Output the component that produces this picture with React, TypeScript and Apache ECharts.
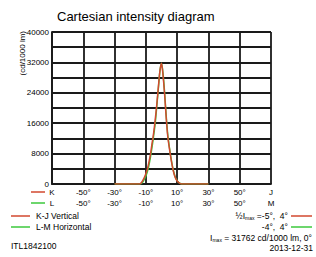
import React, { useEffect, useRef } from "react";
import * as echarts from "echarts";

const angles = [-30, -20, -14, -13, -12, -11, -10, -9, -8, -7, -6, -5, -4, -3, -2, -1, 0, 1, 2, 3, 4, 5, 6, 7, 8, 9, 10, 11, 12, 13, 20, 30];
const kjVertical = [0, 0, 0, 300, 900, 1700, 2700, 4000, 5800, 8000, 10800, 13500, 17000, 21000, 25500, 29800, 31762, 28500, 23500, 17500, 12500, 9500, 6800, 4500, 2700, 1500, 800, 400, 100, 0, 0, 0];
const lmHorizontal = [0, 0, 0, 100, 500, 1200, 2100, 3300, 5000, 7200, 9800, 12800, 16000, 20500, 25200, 29700, 31762, 29000, 24000, 18000, 13000, 9800, 7000, 4700, 2900, 1600, 900, 400, 150, 0, 0, 0];
const xTickAngles = [-70, -50, -30, -10, 10, 30, 50, 70];
const yTicks = [0, 8000, 16000, 24000, 32000, 40000];
const row1Ends = ["K", "J"];
const row2Ends = ["L", "M"];

const RED = "#d2492f";
const GREEN = "#3cc83c";
const FONT = "Liberation Sans";
const X_SHIFT = 70;

export default function App() {
  const ref = useRef<HTMLDivElement>(null);
  useEffect(() => {
    if (!ref.current) return;
    const chart = echarts.init(ref.current, null, { renderer: "svg" });
    const lbl = (ends: string[]) => (v: number) => {
      const a = Math.round(v - X_SHIFT);
      if (a === xTickAngles[0]) return ends[0];
      if (a === xTickAngles[xTickAngles.length - 1]) return ends[1];
      return xTickAngles.includes(a) ? a + "°" : "";
    };
    const axisBase = {
      type: "value",
      min: 0,
      max: 140,
      interval: 20,
      position: "bottom",
      axisTick: { show: false },
      splitLine: { show: false },
    };
    const gridLine = { color: "#1a1a1a", width: 1.8 };
    chart.setOption({
      animation: false,
      textStyle: { fontFamily: FONT },
      title: {
        text: "Cartesian intensity diagram",
        left: 52,
        top: 5,
        textStyle: { fontFamily: FONT, fontSize: 13, fontWeight: "normal", color: "#000" },
      },
      grid: { left: 52, top: 32, right: 45, bottom: 73 },
      xAxis: [
        {
          ...axisBase,
          axisLine: { show: true, lineStyle: gridLine },
          splitLine: { show: true, lineStyle: gridLine },
          axisLabel: { formatter: lbl(row1Ends), fontSize: 8, color: "#000", margin: 4, fontFamily: FONT, showMinLabel: true, showMaxLabel: true },
        },
        {
          ...axisBase,
          offset: 11,
          axisLine: { show: false },
          axisLabel: { formatter: lbl(row2Ends), fontSize: 8, color: "#000", margin: 4, fontFamily: FONT, showMinLabel: true, showMaxLabel: true },
        },
      ],
      yAxis: {
        type: "value",
        min: 0,
        max: 40000,
        interval: 4000,
        axisLine: { show: true, lineStyle: gridLine },
        axisTick: { show: false },
        splitLine: { show: true, lineStyle: gridLine },
        axisLabel: {
          fontSize: 8,
          color: "#000",
          margin: 3,
          fontFamily: FONT,
          formatter: (v: number) => (yTicks.includes(v) ? String(v) : ""),
        },
      },
      series: [
        {
          name: "L-M Horizontal",
          type: "line",
          xAxisIndex: 0,
          data: angles.map((a, i) => [a + X_SHIFT, lmHorizontal[i]]),
          smooth: 0.3,
          symbol: "none",
          lineStyle: { color: GREEN, width: 1.5 },
        },
        {
          name: "K-J Vertical",
          type: "line",
          xAxisIndex: 0,
          data: angles.map((a, i) => [a + X_SHIFT, kjVertical[i]]),
          smooth: 0.3,
          symbol: "none",
          lineStyle: { color: RED, width: 1.5 },
        },
      ],
      graphic: [
        {
          type: "text",
          x: 22,
          y: 31,
          rotation: Math.PI / 2,
          style: { text: "(cd/1000 lm)", fontSize: 8, fontFamily: FONT, fill: "#000", align: "right", verticalAlign: "middle" },
        },
        { type: "line", shape: { x1: 31, y1: 192, x2: 45, y2: 192 }, style: { stroke: RED, lineWidth: 1.5 } },
        { type: "line", shape: { x1: 31, y1: 203, x2: 45, y2: 203 }, style: { stroke: GREEN, lineWidth: 1.5 } },
        { type: "line", shape: { x1: 11, y1: 216, x2: 30, y2: 216 }, style: { stroke: RED, lineWidth: 1.5 } },
        { type: "line", shape: { x1: 11, y1: 227, x2: 30, y2: 227 }, style: { stroke: GREEN, lineWidth: 1.5 } },
        { type: "text", x: 36, y: 216, style: { text: "K-J Vertical", fontSize: 8.5, fontFamily: FONT, fill: "#000", verticalAlign: "middle" } },
        { type: "text", x: 36, y: 227, style: { text: "L-M Horizontal", fontSize: 8.5, fontFamily: FONT, fill: "#000", verticalAlign: "middle" } },
        { type: "line", shape: { x1: 291, y1: 216, x2: 312, y2: 216 }, style: { stroke: RED, lineWidth: 1.5 } },
        { type: "line", shape: { x1: 291, y1: 227, x2: 312, y2: 227 }, style: { stroke: GREEN, lineWidth: 1.5 } },
        {
          type: "text",
          x: 288,
          y: 216,
          style: {
            text: "{f|½}{n|I}{s|max}{n| =-5°,  4°}",
            align: "right",
            verticalAlign: "middle",
            fill: "#000",
            fontFamily: FONT,
            rich: {
              f: { fontSize: 8.5, fontFamily: FONT, fill: "#000" },
              n: { fontSize: 8.5, fontFamily: FONT, fill: "#000" },
              s: { fontSize: 5, fontFamily: FONT, fill: "#000", padding: [4, 0, 0, 0] },
            },
          },
        },
        { type: "text", x: 288, y: 227, style: { text: "-4°,  4°", fontSize: 8.5, fontFamily: FONT, fill: "#000", align: "right", verticalAlign: "middle" } },
        {
          type: "text",
          x: 312,
          y: 238,
          style: {
            text: "{n|I}{s|max}{n| = 31762 cd/1000 lm, 0°}",
            align: "right",
            verticalAlign: "middle",
            fill: "#000",
            fontFamily: FONT,
            rich: {
              n: { fontSize: 8.5, fontFamily: FONT, fill: "#000" },
              s: { fontSize: 5, fontFamily: FONT, fill: "#000", padding: [4, 0, 0, 0] },
            },
          },
        },
        { type: "text", x: 313, y: 248, style: { text: "2013-12-31", fontSize: 8.5, fontFamily: FONT, fill: "#000", align: "right", verticalAlign: "middle" } },
        { type: "text", x: 11, y: 246, style: { text: "ITL1842100", fontSize: 8.5, fontFamily: FONT, fill: "#000", verticalAlign: "middle" } },
      ],
    });
    return () => chart.dispose();
  }, []);
  return <div ref={ref} style={{ width: 316, height: 257, position: "absolute", left: 0, top: 0 }} />;
}
